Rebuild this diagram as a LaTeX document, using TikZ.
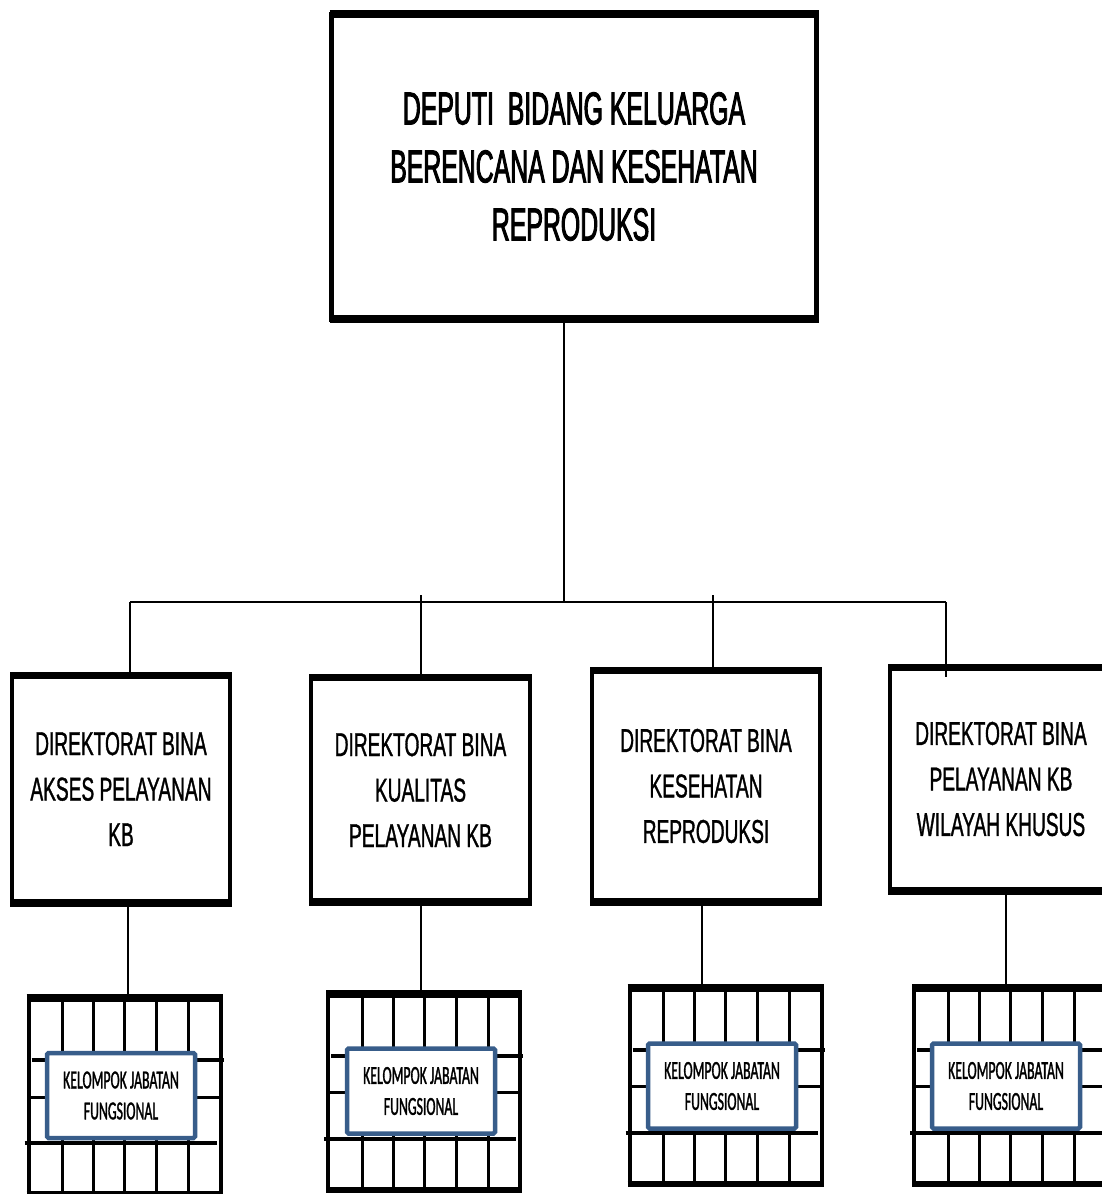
\documentclass[tikz,border=0pt]{standalone}
\usepackage{fontspec}
\usetikzlibrary{calc}
\newfontfamily\depfam[FakeStretch=0.54,FakeBold=2]{Liberation Sans}
\newfontfamily\dirfam[FakeStretch=0.58,FakeBold=1]{Liberation Sans}
\newfontfamily\kelfam[FakeStretch=0.53,FakeBold=1.2]{Carlito}
\definecolor{kblue}{HTML}{385D8A}
\tikzset{
  depbox/.style={draw, line width=5pt, fill=white, inner sep=0pt, outer sep=0pt, align=center,
    font={\depfam\fontsize{46}{58}\selectfont}},
  dirbox/.style={draw, line width=4pt, fill=white, inner sep=0pt, outer sep=0pt, align=center,
    font={\dirfam\fontsize{33}{45.5}\selectfont}},
  gridbox/.style={draw, line width=4pt, fill=white, inner sep=0pt, outer sep=0pt,
    minimum width=192pt, minimum height=196pt},
  kelbox/.style={draw=kblue, line width=4.5pt, fill=white, rounded corners=1.5pt, inner sep=0pt, outer sep=0pt,
    minimum width=148pt, minimum height=85pt, align=center,
    font={\kelfam\fontsize{26}{31}\selectfont}},
  gline/.style={line width=3pt},
  conn/.style={line width=2.5pt},
}
\newcommand\thickedges[3]{%
  \draw[line width=#2] ([xshift=-2pt]#1.north west) -- ([xshift=2pt]#1.north east);
  \draw[line width=#3] ([xshift=-2pt]#1.south west) -- ([xshift=2pt]#1.south east);
}
\newcommand\gridcells[1]{%
  \foreach \o in {34,65,96,128,160}{\draw[gline] ([xshift=\o pt]#1.north west) -- ([xshift=\o pt]#1.south west);}
  \draw[line width=4pt] ([shift={(3pt,-62pt)}]#1.north west) -- ([shift={(3pt,-62pt)}]#1.north east);
  \draw[line width=3pt] ([shift={(0pt,-99pt)}]#1.north west) -- ([shift={(0pt,-99pt)}]#1.north east);
  \draw[line width=4pt] ([shift={(-4pt,-145pt)}]#1.north west) -- ([shift={(-4pt,-145pt)}]#1.north east);
  \thickedges{#1}{8pt}{6pt}
}
\begin{document}
\begin{tikzpicture}[x=1pt,y=-1pt]
\useasboundingbox[fill=white] (0,0) rectangle (1102,1194);
\clip (0,0) rectangle (1102,1194);

% top box
\node[depbox, minimum width=485pt, minimum height=305pt] (dep) at (574,166.5)
  {DEPUTI\ \ BIDANG KELUARGA\\BERENCANA DAN KESEHATAN\\REPRODUKSI};
\thickedges{dep}{8pt}{8pt}

% directorate boxes
\node[dirbox, minimum width=218pt, minimum height=227pt] (d1) at (121,789)
  {DIREKTORAT BINA\\AKSES PELAYANAN\\KB};
\node[dirbox, minimum width=219pt, minimum height=224.5pt] (d2) at (420.5,790)
  {DIREKTORAT BINA\\KUALITAS\\PELAYANAN KB};
\node[dirbox, minimum width=228pt, minimum height=231.5pt] (d3) at (706,786)
  {DIREKTORAT BINA\\KESEHATAN\\REPRODUKSI};
\node[dirbox, minimum width=222pt, minimum height=224pt] (d4) at (1001,779)
  {DIREKTORAT BINA\\PELAYANAN KB\\WILAYAH KHUSUS};
\foreach \n in {d1,d2,d3,d4}{\thickedges{\n}{7pt}{8pt}}

% grids
\node[gridbox] (g1) at (124.5,1096) {};
\node[gridbox] (g2) at (424,1091.5) {};
\node[gridbox] (g3) at (725.5,1085.5) {};
\node[gridbox] (g4) at (1010,1085.5) {};
\foreach \n in {g1,g2,g3,g4}{\gridcells{\n}}

% functional groups
\node[kelbox] (k1) at (121,1095.5) {KELOMPOK JABATAN\\FUNGSIONAL};
\node[kelbox] (k2) at (421,1091) {KELOMPOK JABATAN\\FUNGSIONAL};
\node[kelbox] (k3) at (722,1086) {KELOMPOK JABATAN\\FUNGSIONAL};
\node[kelbox] (k4) at (1006,1086) {KELOMPOK JABATAN\\FUNGSIONAL};

% upper connectors
\coordinate (bar) at (564,602);
\coordinate (j1) at (130,602);
\coordinate (j2) at (421,602);
\coordinate (j3) at (713,602);
\coordinate (j4) at (946,602);
\draw[conn] (bar |- dep.south) -- (bar);
\draw[conn] (j1) -- (j4);
\draw[conn] (j1) -- (j1 |- d1.north);
\draw[conn] ([yshift=7pt]j2) -- (j2 |- d2.north);
\draw[conn] ([yshift=7pt]j3) -- (j3 |- d3.north);
\coordinate (e4) at (j4 |- d4.north);
\draw[conn] (j4) -- ([yshift=-10pt]e4);

% lower connectors
\coordinate (c1) at ($(d1.south)+(7,0)$);
\coordinate (c2) at ($(d2.south)+(0.5,0)$);
\coordinate (c3) at ($(d3.south)+(-4,0)$);
\coordinate (c4) at ($(d4.south)+(5,0)$);
\draw[conn] (c1) -- (c1 |- g1.north);
\draw[conn] (c2) -- (c2 |- g2.north);
\draw[conn] (c3) -- (c3 |- g3.north);
\draw[conn] (c4) -- (c4 |- g4.north);
\end{tikzpicture}
\end{document}
